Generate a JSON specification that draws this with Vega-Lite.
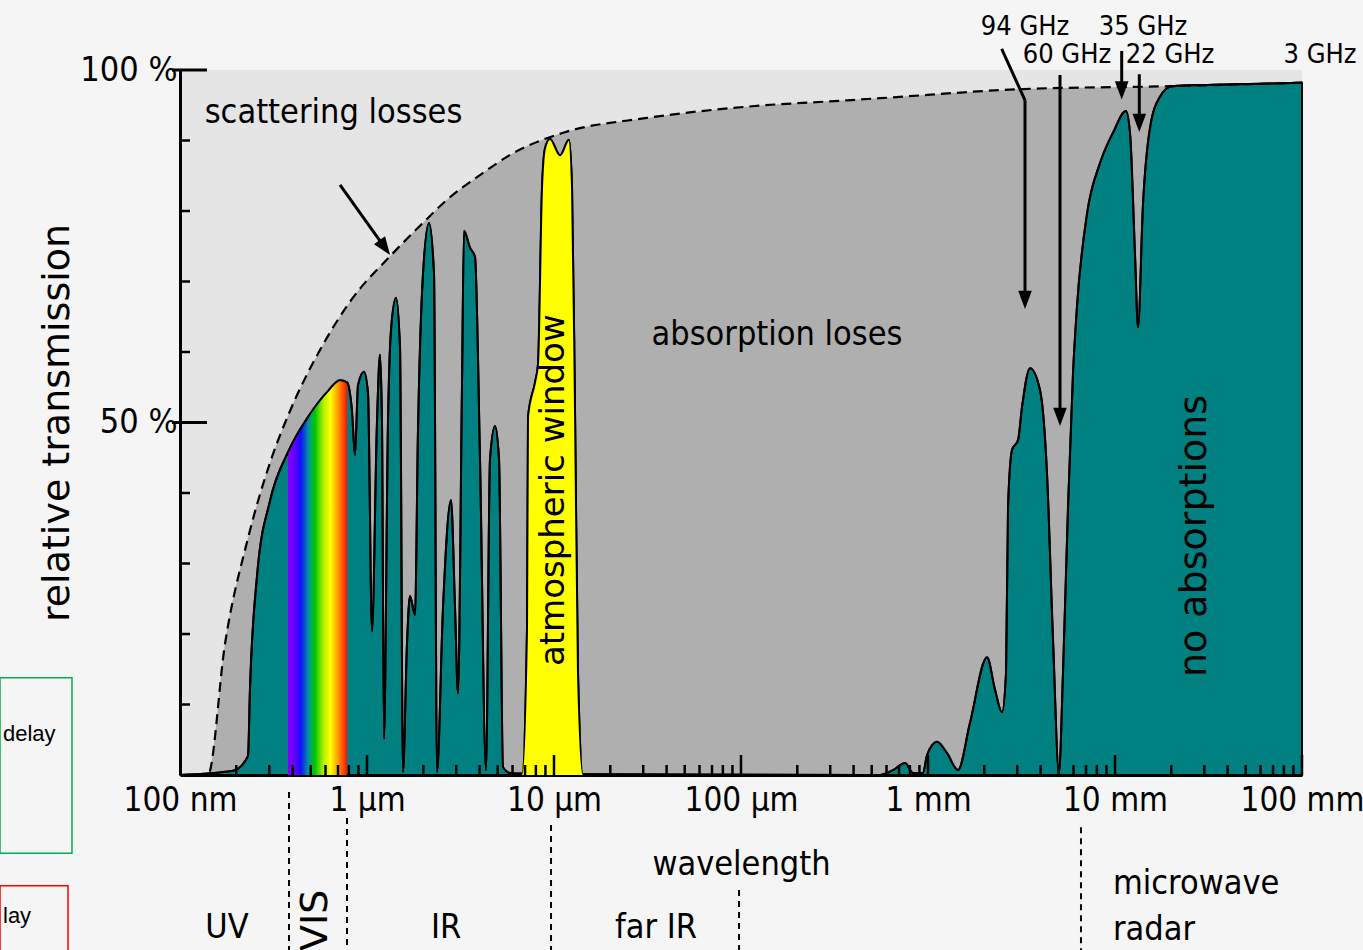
{
  "$schema": "https://vega.github.io/schema/vega-lite/v6.json",
  "width": 1122,
  "height": 705,
  "autosize": {"type": "none"},
  "padding": {"left": 180, "top": 70, "right": 61, "bottom": 175},
  "background": "#f5f5f5",
  "config": {"view": {"fill": "#e5e5e5", "stroke": null}},
  "datasets": {
    "curve": [
      {"u":0.1,"t":0},{"u":0.192,"t":0.6},{"u":0.231,"t":2.7},{"u":0.2367,"t":12.2},{"u":0.2581,"t":28.2},{"u":0.303,"t":38.9},{"u":0.378,"t":45.8},{"u":0.4956,"t":51.2},{"u":0.6112,"t":54.3},{"u":0.7172,"t":56.0},{"u":0.7817,"t":55.7},{"u":0.8314,"t":51.6},{"u":0.8627,"t":45.4},{"u":0.8952,"t":55.3},{"u":0.9638,"t":57.2},{"u":1.0123,"t":54.2},{"u":1.0634,"t":20.4},{"u":1.1309,"t":50.1},{"u":1.1734,"t":59.6},{"u":1.2027,"t":50.1},{"u":1.2327,"t":5.1},{"u":1.295,"t":50.1},{"u":1.3437,"t":63.1},{"u":1.4295,"t":67.7},{"u":1.5017,"t":60.6},{"u":1.5581,"t":0.4},{"u":1.6362,"t":18.6},{"u":1.6976,"t":25.4},{"u":1.8058,"t":22.7},{"u":1.8737,"t":48.9},{"u":1.9931,"t":71.1},{"u":2.1463,"t":78.3},{"u":2.2823,"t":71.1},{"u":2.3679,"t":0.4},{"u":2.5499,"t":23.8},{"u":2.8135,"t":39.0},{"u":2.9554,"t":23.8},{"u":3.0665,"t":11.6},{"u":3.2211,"t":55.3},{"u":3.3014,"t":77.2},{"u":3.5539,"t":74.8},{"u":3.7797,"t":73.5},{"u":4.0208,"t":44.8},{"u":4.3284,"t":0.7},{"u":4.5478,"t":44.8},{"u":4.8362,"t":49.5},{"u":5.0805,"t":44.8},{"u":5.3374,"t":1.1},{"u":5.8184,"t":0.3},{"u":6.6604,"t":0.2},{"u":6.7436,"t":0.2},{"u":7.1719,"t":20.7},{"u":7.2615,"t":50.8},{"u":7.916,"t":55.7},{"u":8.213,"t":58.3},{"u":8.6278,"t":83.3},{"u":8.9536,"t":88.9},{"u":9.5193,"t":90.2},{"u":10.767,"t":87.9},{"u":12.028,"t":90.1},{"u":12.485,"t":83.3},{"u":12.95,"t":52.1},{"u":13.437,"t":14.5},{"u":14.295,"t":0.1},{"u":553.7,"t":0},{"u":649.9,"t":0.7},{"u":753.4,"t":1.7},{"u":831.6,"t":0.3},{"u":940.4,"t":0.3},{"u":987.9,"t":2.8},{"u":1117.3,"t":4.7},{"u":1263.8,"t":3.1},{"u":1447,"t":0.7},{"u":1677.4,"t":7.4},{"u":2068.3,"t":16.7},{"u":2282.3,"t":12.1},{"u":2487.5,"t":8.9},{"u":2613.6,"t":14.5},{"u":2678.8,"t":38.0},{"u":2814.2,"t":46.1},{"u":3029.9,"t":47.5},{"u":3182.9,"t":52.2},{"u":3513.1,"t":57.7},{"u":3970.9,"t":54.6},{"u":4328.4,"t":42.8},{"u":4662.8,"t":19.1},{"u":5018.5,"t":0.3},{"u":5271,"t":14.5},{"u":5607,"t":38.0},{"u":5962.9,"t":57.0},{"u":6263.9,"t":66.5},{"u":7086.5,"t":79.6},{"u":8316,"t":86.8},{"u":9756,"t":91.1},{"u":11451,"t":94.2},{"u":12028,"t":91.1},{"u":12794,"t":73.8},{"u":13275,"t":63.5},{"u":14119,"t":81.0},{"u":15389,"t":91.8},{"u":17398,"t":96.2},{"u":20175,"t":97.7},{"u":33430,"t":97.9},{"u":100000,"t":98.2}
    ],
    "env": [
      {"u":0.1,"t":0},{"u":0.141,"t":0},{"u":0.174,"t":18.6},{"u":0.231,"t":33.6},{"u":0.303,"t":44.3},{"u":0.387,"t":51.6},{"u":0.561,"t":60.3},{"u":0.841,"t":67.7},{"u":1.33,"t":73.6},{"u":1.99,"t":78.3},{"u":2.68,"t":81.6},{"u":4.02,"t":85.1},{"u":6.04,"t":88.2},{"u":11.2,"t":91.1},{"u":31.4,"t":93.2},{"u":108,"t":94.8},{"u":369,"t":95.7},{"u":554,"t":96.0},{"u":3221,"t":97.3},{"u":19680,"t":97.7},{"u":100000,"t":98.2}
    ],
    "xminor": [
      {"u":0.2},{"u":0.3},{"u":0.4},{"u":0.5},{"u":0.6},{"u":0.7},{"u":0.8},{"u":0.9},
      {"u":2},{"u":3},{"u":4},{"u":5},{"u":6},{"u":7},{"u":8},{"u":9},
      {"u":20},{"u":30},{"u":40},{"u":50},{"u":60},{"u":70},{"u":80},{"u":90},
      {"u":200},{"u":300},{"u":400},{"u":500},{"u":600},{"u":700},{"u":800},{"u":900},
      {"u":2000},{"u":3000},{"u":4000},{"u":5000},{"u":6000},{"u":7000},{"u":8000},{"u":9000},
      {"u":20000},{"u":30000},{"u":40000},{"u":50000},{"u":60000},{"u":70000},{"u":80000},{"u":90000}
    ],
    "xmajor": [{"u":1},{"u":10},{"u":100},{"u":1000},{"u":10000},{"u":100000}],
    "yminor": [{"t":10},{"t":20},{"t":30},{"t":40},{"t":60},{"t":70},{"t":80},{"t":90}],
    "ymajor": [{"t":50},{"t":100}],
    "arrows": [
      {"u":2477,"u2":3302,"t":103.0,"t2":95.7},
      {"u":3302,"u2":3302,"t":95.7,"t2":67.4},
      {"u":5080,"u2":5080,"t":99.3,"t2":50.8},
      {"u":10860,"u2":10860,"t":102.7,"t2":97.1},
      {"u":13490,"u2":13490,"t":99.4,"t2":92.5},
      {"u":0.7172,"u2":1.245,"t":83.7,"t2":74.8}
    ],
    "heads": [{"u":3302,"t":67.4},{"u":5080,"t":50.8},{"u":10860,"t":97.1},{"u":13490,"t":92.5}],
    "diaghead": [{"u":1.245,"t":74.8}],
    "bounds": [
      {"u":0.3827,"t":-2.4,"t2":-25.5},
      {"u":0.7817,"t":-6.1,"t2":-25.5},
      {"u":9.64,"t":-7.1,"t2":-25.5},
      {"u":97.6,"t":-16.3,"t2":-25.5},
      {"u":6578,"t":-7.4,"t2":-25.5}
    ],
    "boxes": [
      {"name":"green","u":0.0109,"u2":0.02645,"t":13.8,"t2":-11.1},
      {"name":"red","u":0.0109,"u2":0.02519,"t":-15.7,"t2":-26}
    ],
    "notes": [
      {"kind":"c","text":"scattering losses","u":0.6621,"t":93.9},
      {"kind":"c","text":"absorption loses","u":155.8,"t":62.4},
      {"kind":"c","text":"UV","u":0.1783,"t":-21.7},
      {"kind":"c","text":"IR","u":2.646,"t":-21.7},
      {"kind":"c","text":"far IR","u":35.12,"t":-21.7},
      {"kind":"l","text":"microwave","u":9756,"t":-15.5},
      {"kind":"l","text":"radar","u":9756,"t":-22.0},
      {"kind":"g","text":"94 GHz","u":3302,"t":106.1},
      {"kind":"g","text":"60 GHz","u":5537,"t":102.1},
      {"kind":"g","text":"35 GHz","u":14119,"t":106.1},
      {"kind":"g","text":"22 GHz","u":19686,"t":102.1},
      {"kind":"g","text":"3 GHz","u":124860,"t":102.1},
      {"kind":"r1","text":"atmospheric window","u":10,"t":40.4},
      {"kind":"r2","text":"no absorptions","u":26790,"t":33.9},
      {"kind":"r2","text":"VIS","u":0.5337,"t":-20.6},
      {"kind":"d","text":"delay","u":0.01131,"t":5.8},
      {"kind":"d","text":"lay","u":0.01131,"t":-20.0}
    ]
  },
  "layer": [
    {
      "data": {"name": "env"},
      "mark": {"type": "area", "interpolate": "monotone", "fill": "#afafaf"},
      "encoding": {
        "x": {
          "field": "u", "type": "quantitative",
          "scale": {"type": "log", "domain": [0.1, 100000], "nice": false},
          "axis": {
            "values": [0.1, 1, 10, 100, 1000, 10000, 100000],
            "labelExpr": "datum.value < 0.5 ? '100 nm' : datum.value < 5 ? '1 µm' : datum.value < 50 ? '10 µm' : datum.value < 500 ? '100 µm' : datum.value < 5000 ? '1 mm' : datum.value < 50000 ? '10 mm' : '100 mm'",
            "ticks": false, "grid": false,
            "domainColor": "black", "domainWidth": 3,
            "labelFont": "DejaVu Sans Condensed, DejaVu Sans", "labelFontSize": 33, "labelColor": "black",
            "labelPadding": 9, "labelFlush": false, "labelOverlap": false,
            "title": "wavelength", "titleFont": "DejaVu Sans Condensed, DejaVu Sans", "titleFontSize": 34,
            "titleFontWeight": "normal", "titleColor": "black", "titlePadding": 30
          }
        },
        "y": {
          "field": "t", "type": "quantitative",
          "scale": {"domain": [0, 100], "nice": false},
          "axis": {
            "values": [50, 100],
            "labelExpr": "datum.value + ' %'",
            "ticks": false, "grid": false,
            "domainColor": "black", "domainWidth": 3,
            "labelFont": "DejaVu Sans Condensed, DejaVu Sans", "labelFontSize": 34, "labelColor": "black",
            "labelPadding": 3,
            "title": "relative transmission", "titleFont": "DejaVu Sans", "titleFontSize": 38,
            "titleFontWeight": "normal", "titleColor": "black", "titlePadding": 3
          }
        }
      }
    },
    {
      "data": {"name": "curve"},
      "mark": {"type": "area", "interpolate": "monotone", "fill": "#008080", "stroke": "black", "strokeWidth": 2},
      "encoding": {"x": {"field": "u", "type": "quantitative"}, "y": {"field": "t", "type": "quantitative"}}
    },
    {
      "data": {"name": "curve"},
      "transform": [{"filter": "datum.u >= 0.377 && datum.u <= 0.782"}],
      "mark": {"type": "area", "interpolate": "monotone",
        "fill": {"gradient": "linear", "x1": 0, "x2": 1, "y1": 0, "y2": 0,
          "stops": [
            {"offset": 0, "color": "#8000ff"},
            {"offset": 0.1, "color": "#6a00ff"},
            {"offset": 0.22, "color": "#1010ff"},
            {"offset": 0.34, "color": "#0090a0"},
            {"offset": 0.46, "color": "#00c800"},
            {"offset": 0.6, "color": "#b0f000"},
            {"offset": 0.72, "color": "#ffff00"},
            {"offset": 0.86, "color": "#ff9000"},
            {"offset": 1, "color": "#ff1000"}
          ]}},
      "encoding": {"x": {"field": "u", "type": "quantitative"}, "y": {"field": "t", "type": "quantitative"}}
    },
    {
      "data": {"name": "curve"},
      "transform": [{"filter": "datum.u >= 6.74 && datum.u <= 14.3"}],
      "mark": {"type": "area", "interpolate": "monotone", "fill": "#ffff00"},
      "encoding": {"x": {"field": "u", "type": "quantitative"}, "y": {"field": "t", "type": "quantitative"}}
    },
    {
      "data": {"name": "curve"},
      "mark": {"type": "line", "interpolate": "monotone", "stroke": "black", "strokeWidth": 2},
      "encoding": {"x": {"field": "u", "type": "quantitative"}, "y": {"field": "t", "type": "quantitative"}}
    },
    {
      "data": {"name": "env"},
      "mark": {"type": "line", "interpolate": "monotone", "stroke": "black", "strokeWidth": 2.2, "strokeDash": [10, 6]},
      "encoding": {"x": {"field": "u", "type": "quantitative"}, "y": {"field": "t", "type": "quantitative"}}
    },
    {
      "data": {"name": "xminor"},
      "mark": {"type": "rule", "color": "black", "strokeWidth": 2.5},
      "encoding": {"x": {"field": "u", "type": "quantitative"}, "y": {"datum": 0, "type": "quantitative"}, "y2": {"datum": 1.42}}
    },
    {
      "data": {"name": "xmajor"},
      "mark": {"type": "rule", "color": "black", "strokeWidth": 2.5},
      "encoding": {"x": {"field": "u", "type": "quantitative"}, "y": {"datum": 0, "type": "quantitative"}, "y2": {"datum": 2.84}}
    },
    {
      "data": {"name": "yminor"},
      "mark": {"type": "rule", "color": "black", "strokeWidth": 2.5},
      "encoding": {"y": {"field": "t", "type": "quantitative"}, "x": {"datum": 0.1, "type": "quantitative"}, "x2": {"datum": 0.1131}}
    },
    {
      "data": {"name": "ymajor"},
      "mark": {"type": "rule", "color": "black", "strokeWidth": 3},
      "encoding": {"y": {"field": "t", "type": "quantitative"}, "x": {"datum": 0.0906, "type": "quantitative"}, "x2": {"datum": 0.1394}}
    },
    {
      "data": {"name": "arrows"},
      "mark": {"type": "rule", "color": "black", "strokeWidth": 3},
      "encoding": {
        "x": {"field": "u", "type": "quantitative"}, "x2": {"field": "u2"},
        "y": {"field": "t", "type": "quantitative"}, "y2": {"field": "t2"}
      }
    },
    {
      "data": {"name": "heads"},
      "mark": {"type": "point", "shape": "M-0.75,-1L0.75,-1L0,1Z", "filled": true, "color": "black", "opacity": 1, "size": 330},
      "encoding": {"x": {"field": "u", "type": "quantitative"}, "y": {"field": "t", "type": "quantitative"}}
    },
    {
      "data": {"name": "diaghead"},
      "mark": {"type": "point", "shape": "M-0.75,-1L0.75,-1L0,1Z", "filled": true, "color": "black", "opacity": 1, "size": 330, "angle": 324.5},
      "encoding": {"x": {"field": "u", "type": "quantitative"}, "y": {"field": "t", "type": "quantitative"}}
    },
    {
      "data": {"name": "bounds"},
      "mark": {"type": "rule", "color": "black", "strokeWidth": 2, "strokeDash": [6, 5]},
      "encoding": {"x": {"field": "u", "type": "quantitative"}, "y": {"field": "t", "type": "quantitative"}, "y2": {"field": "t2"}}
    },
    {
      "data": {"name": "boxes"},
      "mark": {"type": "rect", "filled": false, "strokeWidth": 1.5},
      "encoding": {
        "x": {"field": "u", "type": "quantitative"}, "x2": {"field": "u2"},
        "y": {"field": "t", "type": "quantitative"}, "y2": {"field": "t2"},
        "stroke": {"field": "name", "type": "nominal", "scale": {"domain": ["green", "red"], "range": ["#00b050", "#ff0000"]}, "legend": null}
      }
    },
    {
      "data": {"name": "notes"},
      "transform": [{"filter": "datum.kind == 'c'"}],
      "mark": {"type": "text", "font": "DejaVu Sans Condensed, DejaVu Sans", "fontSize": 34, "color": "black", "align": "center", "baseline": "middle"},
      "encoding": {"x": {"field": "u", "type": "quantitative"}, "y": {"field": "t", "type": "quantitative"}, "text": {"field": "text"}}
    },
    {
      "data": {"name": "notes"},
      "transform": [{"filter": "datum.kind == 'l'"}],
      "mark": {"type": "text", "font": "DejaVu Sans Condensed, DejaVu Sans", "fontSize": 34, "color": "black", "align": "left", "baseline": "middle"},
      "encoding": {"x": {"field": "u", "type": "quantitative"}, "y": {"field": "t", "type": "quantitative"}, "text": {"field": "text"}}
    },
    {
      "data": {"name": "notes"},
      "transform": [{"filter": "datum.kind == 'g'"}],
      "mark": {"type": "text", "font": "DejaVu Sans Condensed, DejaVu Sans", "fontSize": 27, "color": "black", "align": "center", "baseline": "middle"},
      "encoding": {"x": {"field": "u", "type": "quantitative"}, "y": {"field": "t", "type": "quantitative"}, "text": {"field": "text"}}
    },
    {
      "data": {"name": "notes"},
      "transform": [{"filter": "datum.kind == 'r1'"}],
      "mark": {"type": "text", "font": "DejaVu Sans", "fontSize": 34, "color": "black", "align": "center", "baseline": "middle", "angle": 270},
      "encoding": {"x": {"field": "u", "type": "quantitative"}, "y": {"field": "t", "type": "quantitative"}, "text": {"field": "text"}}
    },
    {
      "data": {"name": "notes"},
      "transform": [{"filter": "datum.kind == 'r2'"}],
      "mark": {"type": "text", "font": "DejaVu Sans", "fontSize": 38, "color": "black", "align": "center", "baseline": "middle", "angle": 270},
      "encoding": {"x": {"field": "u", "type": "quantitative"}, "y": {"field": "t", "type": "quantitative"}, "text": {"field": "text"}}
    },
    {
      "data": {"name": "notes"},
      "transform": [{"filter": "datum.kind == 'd'"}],
      "mark": {"type": "text", "font": "Liberation Sans", "fontSize": 22, "color": "black", "align": "left", "baseline": "middle"},
      "encoding": {"x": {"field": "u", "type": "quantitative"}, "y": {"field": "t", "type": "quantitative"}, "text": {"field": "text"}}
    }
  ]
}
